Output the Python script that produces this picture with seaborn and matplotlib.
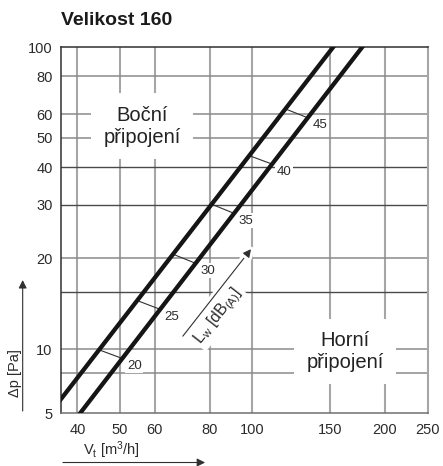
import numpy as np
import pandas as pd
import matplotlib
matplotlib.use("Agg")
import matplotlib.pyplot as plt
import matplotlib.patheffects as pe
from matplotlib.ticker import NullLocator, NullFormatter
import seaborn as sns

# Pressure drop lines (flow in m3/h, pressure drop in Pa)
side_flow = [36.7, 152.8]     # "Boční připojení"
side_dp = [6.83, 100.0]
top_flow = [40.6, 177.9]      # "Horní připojení"
top_dp = [6.14, 100.0]

# Sound power marks: flow where each mark leaves the side line and meets the top line
lw_levels = [20, 25, 30, 35, 40, 45]
lw_side_flow = [44.8, 54.7, 66.0, 80.8, 98.4, 118.9]
lw_top_flow = [50.6, 61.7, 74.3, 90.9, 110.9, 133.7]

x_ticks = [40, 50, 60, 80, 100, 150, 200, 250]
y_ticks = [6.14, 10, 20, 30, 40, 50, 60, 80, 100]
y_tick_labels = ["5", "10", "20", "30", "40", "50", "60", "80", "100"]
y_light_grid = [8.3, 10, 20, 50, 60, 80]
y_dark_grid = [15.4, 30, 40]

TEXT = "#2b2b2b"


def dp_on_line(flow, line_flow, line_dp):
    # straight line in log-log space through the two read points
    n = np.log(line_dp[1] / line_dp[0]) / np.log(line_flow[1] / line_flow[0])
    return line_dp[0] * (np.asarray(flow) / line_flow[0]) ** n


sns.set_style("white")
plt.rcParams["font.family"] = ["Liberation Sans", "DejaVu Sans"]
plt.rcParams["mathtext.fontset"] = "custom"
plt.rcParams["mathtext.rm"] = "Liberation Sans"
plt.rcParams["mathtext.it"] = "Liberation Sans"

fig = plt.figure(figsize=(4.43, 4.66), dpi=100)
ax = fig.add_axes([0.1377, 0.1137, 0.8284, 0.7854])

df = pd.DataFrame({
    "flow": side_flow + top_flow,
    "dp": side_dp + top_dp,
    "connection": ["side"] * 2 + ["top"] * 2,
})
sns.lineplot(data=df, x="flow", y="dp", hue="connection", sort=False,
             palette=["#151515", "#151515"], linewidth=3.1, legend=False,
             solid_capstyle="projecting", zorder=4, ax=ax)

ax.set_xscale("log")
ax.set_yscale("log")
ax.set_xlim(36.7, 251)
ax.set_ylim(6.14, 100)
ax.set_xticks(x_ticks, labels=[str(t) for t in x_ticks])
ax.set_yticks(y_ticks, labels=y_tick_labels)
for axis in (ax.xaxis, ax.yaxis):
    axis.set_minor_locator(NullLocator())
    axis.set_minor_formatter(NullFormatter())
ax.tick_params(length=0, labelsize=10.5, labelcolor=TEXT)
ax.tick_params(axis="x", pad=7)
ax.tick_params(axis="y", pad=6)
ax.set_xlabel("")
ax.set_ylabel("")

# grid
for x in x_ticks[:-1]:
    ax.axvline(x, color="#a6a6a6", lw=1.5, zorder=0)
for y in y_light_grid:
    ax.axhline(y, color="#8a8a8a", lw=1.1, zorder=0)
for y in y_dark_grid:
    ax.axhline(y, color="#4a4a4a", lw=1.0, zorder=0)
for side in ["left", "top"]:
    ax.spines[side].set_color("#303030")
    ax.spines[side].set_linewidth(1.1)
ax.spines["bottom"].set_color("#707070")
ax.spines["bottom"].set_linewidth(1.1)
ax.spines["right"].set_color("#a6a6a6")
ax.spines["right"].set_linewidth(1.5)

# sound power marks between the lines
side_mark_dp = dp_on_line(lw_side_flow, side_flow, side_dp)
top_mark_dp = dp_on_line(lw_top_flow, top_flow, top_dp)
for lvl, f1, p1, f2, p2 in zip(lw_levels, lw_side_flow, side_mark_dp, lw_top_flow, top_mark_dp):
    ax.plot([f1, f2], [p1, p2], color="#303030", lw=0.8, zorder=3)
    ax.annotate(str(lvl), xy=(f2, p2), xytext=(12, -7.5), textcoords="offset pixels",
                ha="center", va="center", fontsize=9.5, color=TEXT, zorder=2,
                bbox=dict(fc="white", ec="none", pad=1.0))

# region labels
box = dict(fc="white", ec="none", boxstyle="square,pad=0.6")
ax.text(0.221, 0.784, "Boční\npřipojení", transform=ax.transAxes, ha="center", va="center",
        fontsize=14.5, color="#222222", bbox=box, zorder=2)
ax.text(0.774, 0.167, "Horní\npřipojení", transform=ax.transAxes, ha="center", va="center",
        fontsize=14.5, color="#222222", bbox=box, zorder=2)

# Lw arrow and label
ax.annotate("", xy=(0.518, 0.448), xytext=(0.332, 0.210), xycoords="axes fraction",
            arrowprops=dict(arrowstyle="-|>", color="#303030", lw=0.8, mutation_scale=12,
                            shrinkA=0, shrinkB=0,
                            path_effects=[pe.withStroke(linewidth=5, foreground="white")]),
            zorder=2)
ax.text(0.428, 0.265, r"L$_\mathrm{w}$ [dB$_\mathrm{(A)}$]", transform=ax.transAxes,
        rotation=52, rotation_mode="anchor", ha="center", va="center", fontsize=11.5,
        color=TEXT, zorder=2, bbox=dict(fc="white", ec="none", pad=1.5))

# title and axis captions with arrows
fig.text(0.1377, 0.957, "Velikost 160", ha="left", va="center", fontsize=14,
         fontweight="bold", color="#1a1a1a")
fig.text(0.034, 0.1996, "Δp [Pa]", rotation=90, ha="center", va="center",
         fontsize=10.5, color=TEXT)
ax.annotate("", xy=(0.0512, 0.399), xytext=(0.0512, 0.118), xycoords="figure fraction",
            arrowprops=dict(arrowstyle="-|>", color="#303030", lw=0.8, mutation_scale=12,
                            shrinkA=0, shrinkB=0), annotation_clip=False)
fig.text(0.2506, 0.0343, r"V$_\mathrm{t}$ [m$^3$/h]", ha="center", va="center",
         fontsize=10.5, color=TEXT)
ax.annotate("", xy=(0.463, 0.0075), xytext=(0.142, 0.0075), xycoords="figure fraction",
            arrowprops=dict(arrowstyle="-|>", color="#303030", lw=0.8, mutation_scale=12,
                            shrinkA=0, shrinkB=0), annotation_clip=False)

fig.savefig("out.png", dpi=100)
